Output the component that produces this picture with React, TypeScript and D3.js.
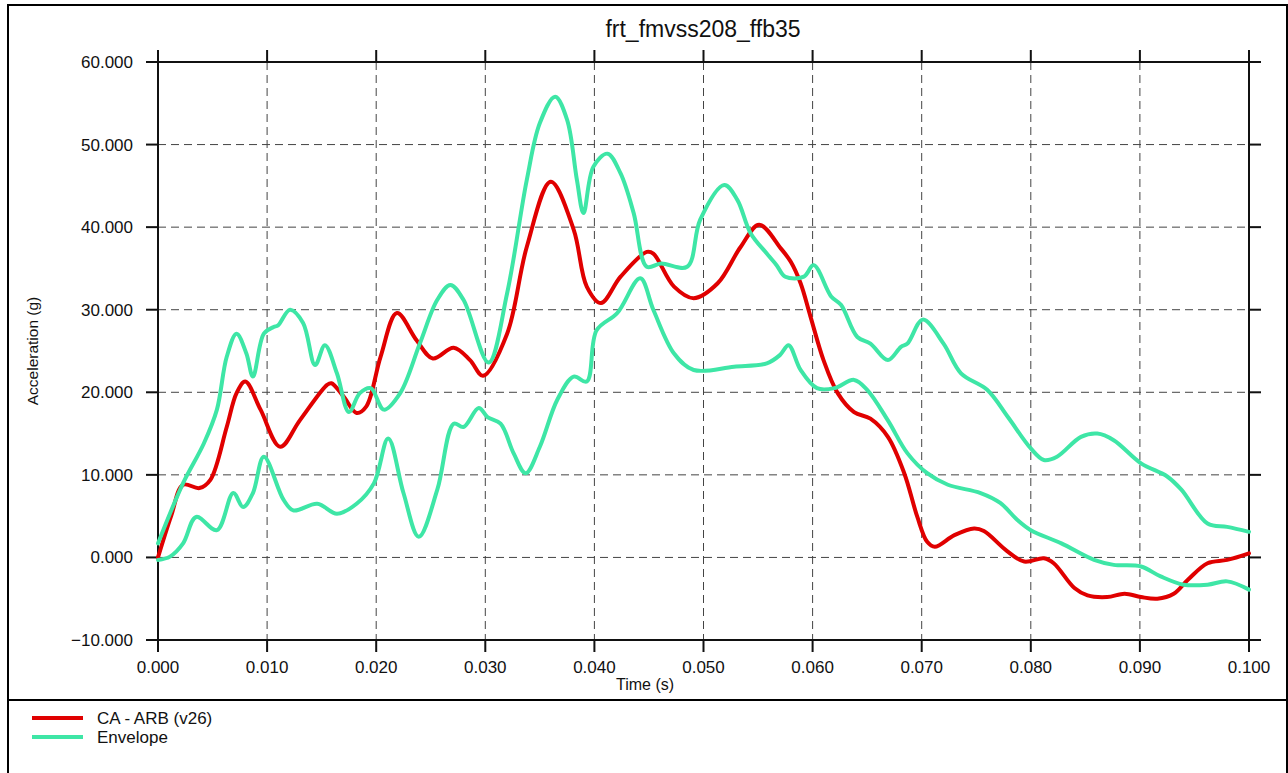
import React from "react";
import * as d3 from "d3";

const chartTitle = "frt_fmvss208_ffb35";
const xLabel = "Time (s)";
const yLabel = "Acceleration (g)";
const seriesNames = ["CA - ARB (v26)", "Envelope"];

const xTicks = [0, 0.01, 0.02, 0.03, 0.04, 0.05, 0.06, 0.07, 0.08, 0.09, 0.1];
const yTicks = [-10, 0, 10, 20, 30, 40, 50, 60];

// CA - ARB (v26): [time s, acceleration g]
const caArb: [number, number][] = [
  [0, 0], [0.0012, 5.0], [0.0023, 8.8], [0.0038, 8.4], [0.0048, 9.4], [0.0063, 15.8],
  [0.0072, 19.9], [0.008, 21.3], [0.0094, 17.9], [0.0112, 13.4], [0.013, 16.6],
  [0.0155, 20.9], [0.0159, 21.1], [0.017, 19.5], [0.0182, 17.5], [0.0191, 18.3],
  [0.0204, 24.3], [0.0219, 29.6], [0.0237, 26.3], [0.0252, 24.1], [0.0271, 25.4],
  [0.0286, 23.9], [0.0298, 22.0], [0.032, 27.1], [0.0338, 37.6], [0.036, 45.5],
  [0.0381, 39.7], [0.0393, 32.8], [0.0406, 30.8], [0.0424, 34.0], [0.0448, 37.0],
  [0.0454, 36.8], [0.0473, 32.8], [0.0491, 31.4], [0.0513, 33.2], [0.0534, 37.6],
  [0.0551, 40.3], [0.0571, 37.4], [0.058, 35.8], [0.0589, 33.2], [0.0598, 29.2],
  [0.061, 23.9], [0.0623, 19.9], [0.0638, 17.6], [0.0653, 16.8], [0.0669, 14.6],
  [0.0684, 10.2], [0.0696, 4.9], [0.0705, 1.9], [0.0712, 1.3], [0.073, 2.7],
  [0.0748, 3.5], [0.0757, 3.2], [0.0778, 0.8], [0.0794, -0.5], [0.0812, -0.1],
  [0.0821, -0.7], [0.084, -3.7], [0.0852, -4.6], [0.087, -4.8], [0.0886, -4.4],
  [0.0901, -4.8], [0.0916, -5.0], [0.0931, -4.4], [0.0944, -2.7], [0.0962, -0.7],
  [0.098, -0.3], [0.1, 0.5],
];

// Envelope upper bound
const envelopeUpper: [number, number][] = [
  [0, 1.7], [0.0023, 9.0], [0.0042, 13.8], [0.0054, 17.9], [0.0063, 24.3], [0.0072, 27.1],
  [0.0081, 24.7], [0.0087, 21.9], [0.0097, 27.1], [0.0106, 27.9], [0.011, 28.1],
  [0.0121, 30.0], [0.0133, 28.4], [0.0144, 23.3], [0.0153, 25.7], [0.0164, 22.3],
  [0.0175, 17.6], [0.0185, 19.9], [0.0195, 20.5], [0.0207, 17.9], [0.0222, 19.9],
  [0.024, 25.9], [0.0256, 31.2], [0.0268, 33.0], [0.028, 31.2], [0.0303, 23.6],
  [0.032, 32.0], [0.0338, 45.7], [0.035, 52.6], [0.0364, 55.8], [0.0375, 53.0],
  [0.0384, 45.7], [0.039, 41.7], [0.0399, 47.3], [0.0412, 48.9], [0.0424, 46.5],
  [0.0436, 41.7], [0.0448, 35.2], [0.0461, 35.6], [0.0485, 35.2], [0.0497, 40.9],
  [0.0519, 45.1], [0.0531, 43.3], [0.0543, 39.3], [0.0558, 36.8], [0.0567, 35.4],
  [0.0575, 34.0], [0.0592, 34.0], [0.0601, 35.4], [0.0617, 31.6], [0.0626, 30.6],
  [0.0641, 26.7], [0.0653, 25.9], [0.0669, 23.9], [0.0681, 25.5], [0.0687, 25.9],
  [0.0701, 28.8], [0.072, 25.9], [0.0736, 22.3], [0.076, 20.3], [0.0779, 17.0],
  [0.08, 13.2], [0.0812, 11.8], [0.0824, 12.2], [0.0846, 14.6], [0.0861, 15.0],
  [0.0876, 14.2], [0.0901, 11.4], [0.0925, 9.8], [0.0938, 8.2], [0.0962, 4.1],
  [0.098, 3.7], [0.1, 3.1],
];

// Envelope lower bound
const envelopeLower: [number, number][] = [
  [0, -0.3], [0.0011, 0.1], [0.0023, 1.7], [0.0035, 4.9], [0.0054, 3.3], [0.0069, 7.8],
  [0.0078, 6.1], [0.0087, 7.8], [0.0097, 12.2], [0.0115, 7.0], [0.0124, 5.7],
  [0.0146, 6.5], [0.0164, 5.3], [0.0182, 6.5], [0.0198, 9.0], [0.0211, 14.4],
  [0.0225, 7.8], [0.0239, 2.5], [0.0256, 8.2], [0.0271, 16.2], [0.028, 15.8],
  [0.0294, 18.1], [0.0302, 17.0], [0.0314, 16.2], [0.0326, 12.6], [0.0337, 10.2],
  [0.035, 13.4], [0.0366, 19.1], [0.0381, 21.9], [0.0393, 21.3], [0.0402, 27.5],
  [0.0421, 29.6], [0.0442, 33.8], [0.0454, 30.0], [0.0473, 24.7], [0.0491, 22.7],
  [0.0528, 23.1], [0.0558, 23.5], [0.057, 24.5], [0.0578, 25.7], [0.0589, 22.7],
  [0.0604, 20.5], [0.062, 20.5], [0.0638, 21.5], [0.065, 20.3], [0.0669, 16.6],
  [0.0687, 12.6], [0.0705, 10.2], [0.0724, 8.8], [0.0754, 7.8], [0.0772, 6.6],
  [0.0788, 4.5], [0.08, 3.3], [0.0828, 1.7], [0.0858, -0.3], [0.0876, -0.9],
  [0.0901, -1.1], [0.0919, -2.3], [0.094, -3.3], [0.0962, -3.3], [0.098, -2.9],
  [0.1, -3.9],
];

const RED = "#e00000";
const GREEN = "#3ee6a6";
const FONT = "'Liberation Sans', Arial, Helvetica, sans-serif";

export default function App() {
  const W = 1288;
  const H = 773;
  const left = 158;
  const right = 1249;
  const top = 62;
  const bottom = 640;
  const tick = 12;

  const x = d3.scaleLinear().domain([0, 0.1]).range([left, right]);
  const y = d3.scaleLinear().domain([-10, 60]).range([bottom, top]);
  const line = d3
    .line<[number, number]>()
    .x((d) => x(d[0]))
    .y((d) => y(d[1]))
    .curve(d3.curveCatmullRom.alpha(0.5));
  const fmt = d3.format(".3f");

  const innerX = xTicks.filter((t) => t > 0 && t < 0.1);
  const innerY = yTicks.filter((t) => t > -10 && t < 60);

  return (
    <svg
      width={W}
      height={H}
      style={{ position: "absolute", left: 0, top: 0, background: "#fff" }}
      fontFamily={FONT}
    >
      <rect x={0} y={0} width={W} height={H} fill="#fff" />
      {/* outer frame */}
      <rect x={8} y={5} width={W - 9} height={H + 20} fill="none" stroke="#000" strokeWidth={2} />
      <line x1={8} x2={W} y1={700} y2={700} stroke="#000" strokeWidth={2} />

      {/* title */}
      <text x={703} y={37} textAnchor="middle" fontSize={23} fill="#111">
        {chartTitle}
      </text>

      {/* grid */}
      {innerX.map((t) => (
        <line key={"gx" + t} x1={x(t)} x2={x(t)} y1={top} y2={bottom} stroke="#444" strokeWidth={1} strokeDasharray="8,5" />
      ))}
      {innerY.map((t) => (
        <line key={"gy" + t} x1={left} x2={right} y1={y(t)} y2={y(t)} stroke="#444" strokeWidth={1} strokeDasharray="8,5" />
      ))}

      {/* axes box with extended lines */}
      <g stroke="#111" strokeWidth={2}>
        <line x1={left - tick} x2={right + tick} y1={top} y2={top} />
        <line x1={left - tick} x2={right + tick} y1={bottom} y2={bottom} />
        <line x1={left} x2={left} y1={top - tick} y2={bottom + tick} />
        <line x1={right} x2={right} y1={top - tick} y2={bottom + tick} />
        {xTicks.map((t) => (
          <g key={"xt" + t}>
            <line x1={x(t)} x2={x(t)} y1={top - tick} y2={top} />
            <line x1={x(t)} x2={x(t)} y1={bottom} y2={bottom + tick} />
          </g>
        ))}
        {yTicks.map((t) => (
          <g key={"yt" + t}>
            <line x1={left - tick} x2={left} y1={y(t)} y2={y(t)} />
            <line x1={right} x2={right + tick} y1={y(t)} y2={y(t)} />
          </g>
        ))}
      </g>

      {/* tick labels */}
      {yTicks.map((t) => (
        <text key={"yl" + t} x={133} y={y(t) + 6} textAnchor="end" fontSize={17} fill="#111">
          {fmt(t)}
        </text>
      ))}
      {xTicks.map((t) => (
        <text key={"xl" + t} x={x(t)} y={673} textAnchor="middle" fontSize={17} fill="#111">
          {fmt(t)}
        </text>
      ))}

      {/* axis titles */}
      <text x={645} y={690} textAnchor="middle" fontSize={16} fill="#111">
        {xLabel}
      </text>
      <text
        transform={`translate(38, 351) rotate(-90)`}
        textAnchor="middle"
        fontSize={15.5}
        fill="#111"
      >
        {yLabel}
      </text>

      {/* series */}
      <path d={line(caArb) || ""} fill="none" stroke={RED} strokeWidth={4} strokeLinejoin="round" strokeLinecap="round" />
      <path d={line(envelopeUpper) || ""} fill="none" stroke={GREEN} strokeWidth={4} strokeLinejoin="round" strokeLinecap="round" />
      <path d={line(envelopeLower) || ""} fill="none" stroke={GREEN} strokeWidth={4} strokeLinejoin="round" strokeLinecap="round" />

      {/* legend */}
      <line x1={32} x2={83} y1={718} y2={718} stroke={RED} strokeWidth={4} />
      <text x={97} y={724} fontSize={17} fill="#111">
        {seriesNames[0]}
      </text>
      <line x1={32} x2={83} y1={737} y2={737} stroke={GREEN} strokeWidth={4} />
      <text x={97} y={743} fontSize={17} fill="#111">
        {seriesNames[1]}
      </text>
    </svg>
  );
}
